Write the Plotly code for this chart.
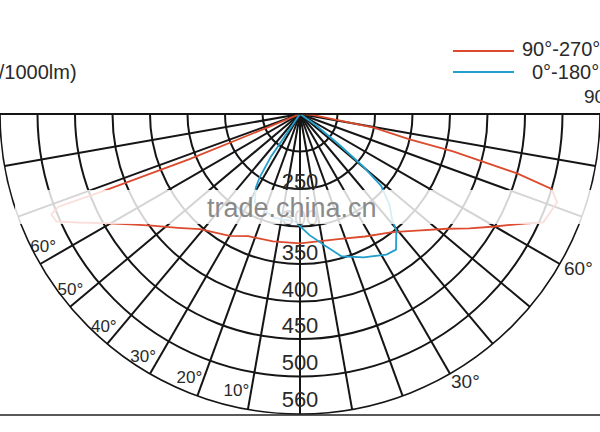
import plotly.graph_objects as go

# radial grid rings (index) and the intensity labels written along the 0° axis
rings = [1, 2, 3, 4, 5, 6, 7, 8]
ring_labels = ["250", "300", "350", "400", "450", "500", "560"]
ring_label_r = [1.85, 2.8, 3.74, 4.72, 5.69, 6.67, 7.67]

# angle labels, left side (inside the rim)
left_labels = ["10°", "20°", "30°", "40°", "50°", "60°"]
left_theta = [-12.9, -22.7, -32.8, -42.6, -52.4, -62.5]
left_r = [7.6, 7.64, 7.72, 7.73, 7.73, 7.72]

# angle labels, right side (outside the rim) - pixel spots
right_labels = ["30°", "60°", "90°"]
right_x = [465, 578, 598]
right_y = [381, 268, 97]

# 90°-270° plane (red)
red_theta = [-67.5, -67.5, -67.8, -68.6, -69, -68, -66.2, -64, -61, -57, -53, -47, -41,
             -30, -23, -12, 0, 6, 18, 28, 38, 45, 52, 56, 60, 64, 66, 71, 73.4, 74.7,
             76.3, 77, 79.6, 85.6, 86]
red_r = [0, 1.0, 3.2, 5.56, 6.9, 7.15, 7.1, 6.6, 6.0, 5.4, 4.95, 4.45, 4.07,
         3.75, 3.54, 3.47, 3.45, 3.43, 3.5, 3.7, 4.0, 4.4, 4.97, 5.45, 6.0, 6.66, 7.1, 7.25, 7.0, 6.0,
         4.2, 3.0, 2.0, 0.33, 0]

# 0°-180° plane (blue)
blue_theta = [-34, -34.3, -32.5, -30.9, -27, -14, -2.6, 4.5, 10.7, 16.2, 23.9, 31.6, 35.3,
              39.6, 40.9, 44.7, 48.5, 50.3, 52, 55, 55]
blue_r = [0, 1.37, 2.0, 2.3, 2.65, 2.85, 2.87, 3.24, 3.57, 3.95, 4.18, 4.4, 4.43,
          4.03, 3.76, 3.39, 2.89, 2.17, 1.3, 0.5, 0]

FONT = "Liberation Sans, Arial, sans-serif"
W, H = 600, 432
RED = "#dc4b2e"
BLUE = "#229fcc"
INK = "#151515"
TXT = "#2a2a2a"


def px(x):
    return x / W


def py(y):
    return 1 - y / H


fig = go.Figure()

fig.add_trace(go.Scatterpolar(
    r=red_r, theta=red_theta, mode="lines",
    line=dict(color=RED, width=1.8), name="90°-270°"
))
fig.add_trace(go.Scatterpolar(
    r=blue_r, theta=blue_theta, mode="lines",
    line=dict(color=BLUE, width=1.8), name="0°-180°"
))

# ring labels down the 0° axis
fig.add_trace(go.Scatterpolar(
    r=ring_label_r, theta=[0] * len(ring_labels), mode="text",
    text=ring_labels, textposition="middle center",
    textfont=dict(family=FONT, size=22, color=TXT),
    cliponaxis=False
))
fig.add_trace(go.Scatterpolar(
    r=left_r, theta=left_theta, mode="text",
    text=left_labels, textposition="middle center",
    textfont=dict(family=FONT, size=17, color=TXT),
    cliponaxis=False
))

fig.update_layout(
    width=W, height=H,
    margin=dict(l=0, r=0, t=0, b=0),
    paper_bgcolor="white",
    showlegend=False,
    polar=dict(
        domain=dict(x=[0, 1], y=[py(414), py(114)]),
        sector=[180, 360],
        bgcolor="white",
        angularaxis=dict(
            rotation=270, direction="counterclockwise",
            tickmode="linear", tick0=0, dtick=10,
            showticklabels=False, ticks="",
            gridcolor=INK, gridwidth=1.5,
            showline=True, linecolor=INK, linewidth=1.6,
        ),
        radialaxis=dict(
            range=[0, 8], tickvals=rings,
            showticklabels=False, ticks="", showline=False,
            gridcolor=INK, gridwidth=1.5,
        ),
    ),
)

shapes = [
    # bottom rule
    dict(type="line", xref="paper", yref="paper", x0=0, x1=1, y0=py(415), y1=py(415),
         line=dict(color="#222", width=1.5)),
    # legend keys
    dict(type="line", xref="paper", yref="paper", x0=px(453), x1=px(514), y0=py(51), y1=py(51),
         line=dict(color=RED, width=2)),
    dict(type="line", xref="paper", yref="paper", x0=px(453), x1=px(514), y0=py(72), y1=py(72),
         line=dict(color=BLUE, width=2)),
    # watermark band
    dict(type="rect", xref="paper", yref="paper", x0=px(15), x1=px(592), y0=py(224), y1=py(190),
         fillcolor="white", opacity=0.82, line=dict(width=0), layer="above"),
]
fig.update_layout(shapes=shapes)

annotations = [
    dict(text="(cd/1000lm)", x=px(79), y=py(72), xanchor="right", yanchor="middle",
         font=dict(family=FONT, size=20, color=TXT)),
    dict(text="90°-270°", x=px(520), y=py(49), xanchor="left", yanchor="middle",
         font=dict(family=FONT, size=20, color=TXT)),
    dict(text="0°-180°", x=px(530), y=py(72), xanchor="left", yanchor="middle",
         font=dict(family=FONT, size=20, color=TXT)),
    dict(text="trade.china.cn", x=px(292), y=py(208), xanchor="center", yanchor="middle",
         font=dict(family=FONT, size=27, color="#8a8a8a")),
]
for lab, x, y in zip(right_labels, right_x, right_y):
    annotations.append(dict(text=lab, x=px(x), y=py(y), xanchor="center", yanchor="middle",
                            font=dict(family=FONT, size=19, color=TXT)))
for a in annotations:
    a.update(xref="paper", yref="paper", showarrow=False)
fig.update_layout(annotations=annotations)

# page body has a default 8px margin; drop it so the figure sits at the window corner
fig.write_html("out.html", config={"displayModeBar": False},
               post_script="document.body.style.margin='0';")
